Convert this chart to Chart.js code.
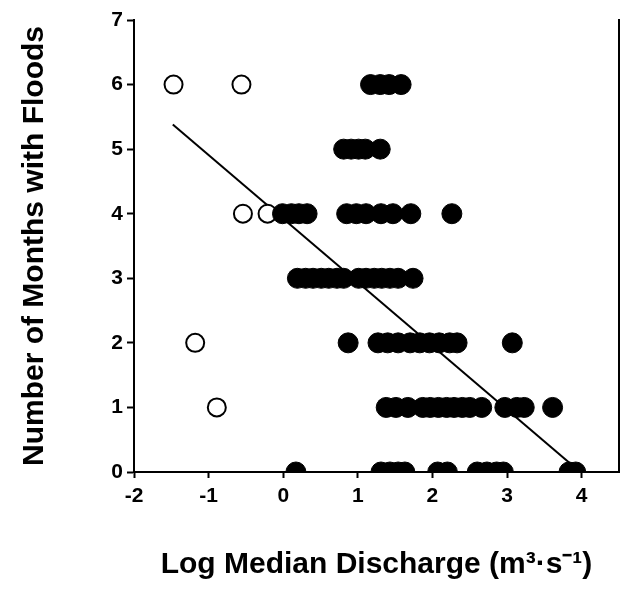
<!DOCTYPE html>
<html>
<head>
<meta charset="utf-8">
<script src="https://cdn.jsdelivr.net/npm/chart.js@4/dist/chart.umd.min.js"></script>
<style>
  body { margin: 0; background: #fff; }
  canvas { display: block; }
</style>
</head>
<body>
<canvas id="floodChart" width="630" height="592"></canvas>
<script>
// open circles (small watersheds)
const openX = [-1.47, -0.56, -0.54, -0.21, -1.18, -0.89];
const openY = [6, 6, 4, 4, 2, 1];

// filled circles, grouped by number of flood months
const row6X = [1.17, 1.30, 1.42, 1.58];
const row5X = [0.81, 0.91, 1.01, 1.10, 1.30];
const row4X = [-0.01, 0.11, 0.21, 0.32, 0.85, 0.98, 1.11, 1.31, 1.47, 1.71, 2.26];
const row3X = [0.19, 0.30, 0.40, 0.51, 0.61, 0.72, 0.81, 1.01, 1.11, 1.22, 1.32, 1.43, 1.54, 1.74];
const row2X = [0.87, 1.27, 1.40, 1.54, 1.70, 1.83, 1.96, 2.09, 2.23, 2.33, 3.07];
const row1X = [1.38, 1.51, 1.67, 1.87, 1.97, 2.08, 2.19, 2.29, 2.40, 2.50, 2.66, 2.97, 3.13, 3.23, 3.61];
const row0X = [0.17, 1.31, 1.43, 1.54, 1.63, 2.07, 2.20, 2.60, 2.73, 2.86, 2.95, 3.83, 3.92];

// regression line end points
const fitX = [-1.48, 3.98];
const fitY = [5.38, 0];

const xTicks = [-2, -1, 0, 1, 2, 3, 4];
const yTicks = [0, 1, 2, 3, 4, 5, 6, 7];

const rows = [row0X, row1X, row2X, row3X, row4X, row5X, row6X];
const filledPts = [];
rows.forEach((xs, y) => xs.forEach(x => filledPts.push({ x, y })));
const openPts = openX.map((x, i) => ({ x, y: openY[i] }));
const fitPts = fitX.map((x, i) => ({ x, y: fitY[i] }));

const axisFont = { family: 'Liberation Sans, Arial, sans-serif', weight: 'bold', size: 21 };
const titleFont = { family: 'Liberation Sans, Arial, sans-serif', weight: 'bold', size: 30 };

new Chart(document.getElementById('floodChart'), {
    type: 'scatter',
    data: {
        datasets: [
            {
                data: filledPts,
                pointRadius: 10,
                pointBackgroundColor: '#000',
                pointBorderColor: '#000',
                pointBorderWidth: 1
            },
            {
                data: openPts,
                pointRadius: 9,
                pointBackgroundColor: '#fff',
                pointBorderColor: '#000',
                pointBorderWidth: 2
            },
            {
                type: 'line',
                data: fitPts,
                borderColor: '#000',
                borderWidth: 2,
                pointRadius: 0,
                fill: false
            }
        ]
    },
    options: {
        responsive: false,
        animation: false,
        layout: { padding: { top: 20, left: 0, right: 0, bottom: 0 } },
        plugins: { legend: { display: false }, tooltip: { enabled: false } },
        scales: {
            x: {
                type: 'linear',
                min: -2,
                max: 4.5,
                afterBuildTicks: s => { s.ticks = xTicks.map(v => ({ value: v })); },
                afterFit: s => { s.height = 120; },
                ticks: { font: axisFont, color: '#000', padding: 6 },
                grid: { drawOnChartArea: false, tickLength: 6, tickColor: '#000', tickWidth: 2 },
                border: { color: '#000', width: 2 },
                title: {
                    display: true,
                    text: 'Log Median Discharge (m³·s⁻¹)',
                    font: titleFont,
                    color: '#000',
                    padding: { top: 0, bottom: 9 }
                }
            },
            y: {
                min: 0,
                max: 7,
                afterBuildTicks: s => { s.ticks = yTicks.map(v => ({ value: v })); },
                afterFit: s => { s.width = 134; },
                ticks: { font: axisFont, color: '#000', padding: 4 },
                grid: { drawOnChartArea: false, tickLength: 7, tickColor: '#000', tickWidth: 2 },
                border: { color: '#000', width: 2 },
                title: {
                    display: true,
                    text: 'Number of Months with Floods',
                    font: titleFont,
                    color: '#000',
                    padding: { top: 17, bottom: 0 }
                }
            },
            yRight: {
                position: 'right',
                min: 0,
                max: 7,
                afterFit: s => { s.width = 5; },
                ticks: { display: false },
                grid: { display: false },
                border: { color: '#000', width: 2 }
            }
        }
    }
});
</script>
</body>
</html>
